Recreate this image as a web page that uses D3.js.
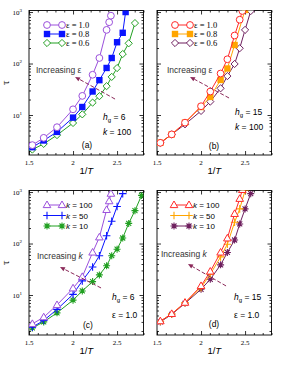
<!DOCTYPE html>
<html>
<head>
<meta charset="utf-8">
<script src="https://cdn.jsdelivr.net/npm/d3@7"></script>
<style>
  body { margin: 0; background: #fff; }
  svg { display: block; }
</style>
</head>
<body>
<script>
// 图的尺寸
var svgWidth = 287, svgHeight = 365;

// 坐标轴刻度
var xMajorTicks = [1.5, 2, 2.5];
var xTickLabels = ['1.5', '2', '2.5'];
var yMajorTicks = [10, 100, 1000];
var yTickExp = ['1', '2', '3'];

// (a) h_g = 6, k = 100
var xA10 = [1.538, 1.667, 1.818, 2.0, 2.105, 2.222, 2.299, 2.381, 2.41, 2.43];
var tauA10 = [2.6, 3.6, 5.8, 12.9, 23.5, 60.5, 128, 450, 635, 850];
var xA08 = [1.538, 1.667, 1.818, 2.0, 2.105, 2.222, 2.299, 2.381, 2.439, 2.5, 2.564, 2.597];
var tauA08 = [2.37, 3.2, 4.7, 8.9, 14.3, 28.6, 47.5, 82, 128, 259, 395, 1000];
var xA06 = [1.538, 1.667, 1.818, 2.0, 2.105, 2.222, 2.299, 2.381, 2.439, 2.5, 2.564, 2.632, 2.703];
var tauA06 = [2.13, 2.75, 4.07, 7.0, 10.3, 17.4, 23.2, 36.3, 55, 81.6, 153, 247, 610];

// (b) h_g = 15, k = 100
var xB10 = [1.538, 1.667, 1.818, 2.0, 2.105, 2.222, 2.299, 2.381, 2.439, 2.469];
var tauB10 = [2.88, 4.2, 7.1, 14.8, 28.6, 64, 121, 350, 710, 1050];
var xB08 = [1.538, 1.667, 1.818, 2.0, 2.105, 2.222, 2.299, 2.381, 2.5];
var tauB08 = [2.88, 4.2, 7.1, 14.3, 22.5, 48, 80, 229, 1100];
var xB06 = [1.538, 1.667, 1.818, 2.0, 2.105, 2.222, 2.299, 2.381, 2.439, 2.5, 2.564];
var tauB06 = [2.88, 4.2, 6.6, 12, 18.2, 33, 57, 98, 198, 450, 1045];

// (c) h_g = 6, eps = 1.0
var xC100 = [1.538, 1.667, 1.818, 2.0, 2.105, 2.222, 2.299, 2.381, 2.41, 2.43];
var tauC100 = [2.75, 3.7, 6.4, 13.5, 22.5, 67, 132, 450, 665, 930];
var xC50 = [1.538, 1.667, 1.818, 2.0, 2.105, 2.222, 2.299, 2.381, 2.439, 2.5, 2.564];
var tauC50 = [2.37, 3.2, 5.25, 10.3, 18.8, 35, 58, 142, 270, 525, 930];
var xC10 = [1.538, 1.667, 1.818, 2.0, 2.105, 2.222, 2.299, 2.381, 2.439, 2.5, 2.564, 2.632, 2.703, 2.778];
var tauC10 = [2.29, 3.0, 4.5, 7.95, 12, 18.2, 24.6, 36.9, 58, 77.6, 128, 246, 435, 860];

// (d) h_g = 15, eps = 1.0
var xD100 = [1.538, 1.667, 1.818, 2.0, 2.105, 2.222, 2.299, 2.381, 2.439, 2.469];
var tauD100 = [3.1, 4.3, 7.1, 15, 28.6, 67, 126, 377, 740, 1100];
var xD50 = [1.538, 1.667, 1.818, 2.0, 2.105, 2.222, 2.299, 2.381, 2.439, 2.5];
var tauD50 = [3.1, 4.3, 7.1, 13.9, 25.3, 55, 97, 259, 470, 1070];
var xD10 = [1.538, 1.667, 1.818, 2.0, 2.105, 2.222, 2.299, 2.381, 2.439, 2.5, 2.564];
var tauD10 = [3.0, 4.2, 6.9, 12.9, 20.2, 38.5, 67, 117, 240, 470, 930];

// 颜色
var cViolet = '#9b50dc', cBlue = '#0a14ff', cGreen = '#22a022';
var cRed = '#ff2a2a', cOrange = '#ffa500', cMaroon = '#6e1f5e';
var cArrow = '#8b2a5a';

var svg = d3.select('body').append('svg')
  .attr('width', svgWidth)
  .attr('height', svgHeight);

var panels = [
  { id: 'a', x0: 29, x1: 143.5, y0: 10.5, y1: 155, yLabels: true,
    legendFont: 'serif', legendX: 47,
    series: [
      { label: 'ε = 1.0', x: xA10, y: tauA10, color: cViolet, mark: 'circle' },
      { label: 'ε = 0.8', x: xA08, y: tauA08, color: cBlue, mark: 'square' },
      { label: 'ε = 0.6', x: xA06, y: tauA06, color: cGreen, mark: 'diamond' }
    ],
    incr: 'ε', incrItalic: false, incrX: 36, incrY: 73,
    arrow: [[2.477, 20.4], [2.023, 55]],
    hg: '6', hgX: 103, hgY: 120, line2: ['k', ' = 100'], l2Y: 135, tag: '(a)', tagX: 87, tagY: 148 },
  { id: 'b', x0: 157, x1: 271.5, y0: 10.5, y1: 155, yLabels: false,
    legendFont: 'serif', legendX: 175,
    series: [
      { label: 'ε = 1.0', x: xB10, y: tauB10, color: cRed, mark: 'circle' },
      { label: 'ε = 0.8', x: xB08, y: tauB08, color: cOrange, mark: 'square' },
      { label: 'ε = 0.6', x: xB06, y: tauB06, color: cMaroon, mark: 'diamond' }
    ],
    incr: 'ε', incrItalic: false, incrX: 167, incrY: 73,
    arrow: [[2.318, 21.4], [1.875, 55]],
    hg: '15', hgX: 235, hgY: 115, line2: ['k', ' = 100'], l2Y: 130, tag: '(b)', tagX: 214, tagY: 149 },
  { id: 'c', x0: 29, x1: 143.5, y0: 190.5, y1: 335, yLabels: true,
    legendFont: 'sans', legendX: 47,
    series: [
      { label: 'k = 100', x: xC100, y: tauC100, color: cViolet, mark: 'triangle' },
      { label: 'k = 50', x: xC50, y: tauC50, color: cBlue, mark: 'plus' },
      { label: 'k = 10', x: xC10, y: tauC10, color: cGreen, mark: 'star' }
    ],
    incr: 'k', incrItalic: true, incrX: 37, incrY: 259,
    arrow: [[2.318, 13.7], [1.852, 35]],
    hg: '6', hgX: 112, hgY: 300, line2: ['ε', ' = 1.0'], l2Y: 318, tag: '(c)', tagX: 88, tagY: 328 },
  { id: 'd', x0: 157, x1: 271.5, y0: 190.5, y1: 335, yLabels: false,
    legendFont: 'sans', legendX: 174,
    series: [
      { label: 'k = 100', x: xD100, y: tauD100, color: cRed, mark: 'triangle' },
      { label: 'k = 50', x: xD50, y: tauD50, color: cOrange, mark: 'plus' },
      { label: 'k = 10', x: xD10, y: tauD10, color: cMaroon, mark: 'star' }
    ],
    incr: 'k', incrItalic: true, incrX: 161, incrY: 257,
    arrow: [[2.284, 15], [1.852, 40]],
    hg: '15', hgX: 234, hgY: 300, line2: ['ε', ' = 1.0'], l2Y: 318, tag: '(d)', tagX: 214, tagY: 327 }
];

var SERIF = '"Liberation Serif", "DejaVu Serif", serif';
var SANS = '"Liberation Sans", Arial, sans-serif';

// 画一个标记
function drawMark(g, type, color, cx, cy) {
  var m = g.append('g').attr('transform', 'translate(' + cx + ',' + cy + ')');
  if (type === 'circle') {
    m.append('circle').attr('r', 3.4).attr('fill', '#fff').attr('stroke', color).attr('stroke-width', 1);
  } else if (type === 'square') {
    m.append('rect').attr('x', -3.2).attr('y', -3.2).attr('width', 6.4).attr('height', 6.4).attr('fill', color);
  } else if (type === 'diamond') {
    m.append('path').attr('d', 'M0,-3.6L3.6,0L0,3.6L-3.6,0Z').attr('fill', '#fff').attr('stroke', color).attr('stroke-width', 1);
  } else if (type === 'triangle') {
    m.append('path').attr('d', 'M0,-4L3.8,2.6L-3.8,2.6Z').attr('fill', '#fff').attr('stroke', color).attr('stroke-width', 1);
  } else if (type === 'plus') {
    m.append('path').attr('d', 'M-3.8,0H3.8M0,-3.8V3.8').attr('stroke', color).attr('stroke-width', 1.1);
  } else if (type === 'star') {
    m.append('path').attr('d', 'M-3.5,0H3.5M0,-3.5V3.5M-2.5,-2.5L2.5,2.5M-2.5,2.5L2.5,-2.5').attr('stroke', color).attr('stroke-width', 1.1);
    m.append('circle').attr('r', 1.6).attr('fill', color);
  }
}

panels.forEach(function (p) {
  var x = d3.scaleLinear().domain([1.5, 2.8]).range([p.x0, p.x1]);
  var y = d3.scaleLog().domain([Math.pow(10, 0.223), Math.pow(10, 3.03)]).range([p.y1, p.y0]);
  var g = svg.append('g').attr('class', 'panel-' + p.id);

  // 裁剪
  svg.append('clipPath').attr('id', 'clip-' + p.id)
    .append('rect').attr('x', p.x0).attr('y', p.y0)
    .attr('width', p.x1 - p.x0).attr('height', p.y1 - p.y0);

  // 刻度：主刻度和次刻度，全部朝内
  var xMinor = x.ticks(13).filter(function (v) { return xMajorTicks.indexOf(+v.toFixed(1)) < 0; });
  var yMinor = y.ticks().filter(function (v) { return yMajorTicks.indexOf(v) < 0; });

  function axisGroup(axis, tx, ty) {
    var a = g.append('g').attr('transform', 'translate(' + tx + ',' + ty + ')').call(axis);
    a.select('.domain').remove();
    a.selectAll('text').remove();
    a.selectAll('line').attr('stroke', '#000').attr('stroke-width', 0.8);
    return a;
  }
  axisGroup(d3.axisBottom(x).tickValues(xMajorTicks).tickSize(-4), 0, p.y1);
  axisGroup(d3.axisBottom(x).tickValues(xMinor).tickSize(-2), 0, p.y1);
  axisGroup(d3.axisTop(x).tickValues(xMajorTicks).tickSize(-4), 0, p.y0);
  axisGroup(d3.axisTop(x).tickValues(xMinor).tickSize(-2), 0, p.y0);
  axisGroup(d3.axisLeft(y).tickValues(yMajorTicks).tickSize(-4), p.x0, 0);
  axisGroup(d3.axisLeft(y).tickValues(yMinor).tickSize(-2), p.x0, 0);
  axisGroup(d3.axisRight(y).tickValues(yMajorTicks).tickSize(-4), p.x1, 0);
  axisGroup(d3.axisRight(y).tickValues(yMinor).tickSize(-2), p.x1, 0);

  // 外框
  g.append('rect').attr('x', p.x0).attr('y', p.y0)
    .attr('width', p.x1 - p.x0).attr('height', p.y1 - p.y0)
    .attr('fill', 'none').attr('stroke', '#000').attr('stroke-width', 0.9);

  // x 轴标签
  xMajorTicks.forEach(function (v, i) {
    g.append('text').attr('x', x(v)).attr('y', p.y1 + 9.5)
      .attr('text-anchor', 'middle').attr('font-family', SERIF).attr('font-size', 7)
      .text(xTickLabels[i]);
  });
  var xl = g.append('text').attr('x', (p.x0 + p.x1) / 2).attr('y', p.y1 + 19)
    .attr('text-anchor', 'middle').attr('font-family', SANS).attr('font-size', 9.5);
  xl.append('tspan').text('1/');
  xl.append('tspan').attr('font-style', 'italic').text('T');

  // y 轴标签
  if (p.yLabels) {
    yMajorTicks.forEach(function (v, i) {
      var t = g.append('text').attr('x', p.x0 - 7).attr('y', y(v) + 2.5)
        .attr('text-anchor', 'end').attr('font-family', SERIF).attr('font-size', 7);
      t.append('tspan').text('10');
      t.append('tspan').attr('font-size', 5).attr('dy', -3).text(yTickExp[i]);
    });
    g.append('text')
      .attr('transform', 'translate(' + (p.x0 - 20) + ',' + ((p.y0 + p.y1) / 2) + ') rotate(-90)')
      .attr('text-anchor', 'middle').attr('font-family', SERIF).attr('font-size', 11)
      .text('τ');
  }

  // 数据线和标记
  var line = d3.line().x(function (d) { return x(d[0]); }).y(function (d) { return y(d[1]); });
  var plot = g.append('g').attr('clip-path', 'url(#clip-' + p.id + ')');
  p.series.slice().reverse().forEach(function (s) {
    var pts = s.x.map(function (v, i) { return [v, s.y[i]]; });
    plot.append('path').datum(pts).attr('d', line)
      .attr('fill', 'none').attr('stroke', s.color).attr('stroke-width', 1);
    pts.forEach(function (d) { drawMark(plot, s.mark, s.color, x(d[0]), y(d[1])); });
  });

  // 图例
  var rowY = p.id === 'a' || p.id === 'b' ? [25, 34, 43] : [205, 215.5, 226];
  p.series.forEach(function (s, i) {
    var ly = rowY[i];
    g.append('line').attr('x1', p.legendX).attr('x2', p.legendX + 15)
      .attr('y1', ly).attr('y2', ly).attr('stroke', s.color).attr('stroke-width', 1);
    drawMark(g, s.mark, s.color, p.legendX, ly);
    drawMark(g, s.mark, s.color, p.legendX + 15, ly);
    var t = g.append('text').attr('x', p.legendX + 19).attr('y', ly + 3);
    if (p.legendFont === 'serif') {
      t.attr('font-family', SERIF).attr('font-size', 8.5).text(s.label);
    } else {
      var parts = s.label.split(' = ');
      t.attr('font-family', SANS).attr('font-size', 8);
      t.append('tspan').attr('font-style', 'italic').text(parts[0]);
      t.append('tspan').text(' = ' + parts[1]);
    }
  });

  // 箭头注释
  var ax0 = x(p.arrow[0][0]), ay0 = y(p.arrow[0][1]);
  var ax1 = x(p.arrow[1][0]), ay1 = y(p.arrow[1][1]);
  var ang = Math.atan2(ay1 - ay0, ax1 - ax0);
  var hl = 5, hw = 2.2;
  var bx = ax1 - hl * Math.cos(ang), by = ay1 - hl * Math.sin(ang);
  g.append('line').attr('x1', ax0).attr('y1', ay0).attr('x2', bx).attr('y2', by)
    .attr('stroke', cArrow).attr('stroke-width', 1).attr('stroke-dasharray', '4,2');
  g.append('path')
    .attr('d', 'M' + ax1 + ',' + ay1 +
      'L' + (bx + hw * Math.sin(ang)) + ',' + (by - hw * Math.cos(ang)) +
      'L' + (bx - hw * Math.sin(ang)) + ',' + (by + hw * Math.cos(ang)) + 'Z')
    .attr('fill', cArrow);

  var it = g.append('text').attr('x', p.incrX).attr('y', p.incrY)
    .attr('font-family', SANS).attr('font-size', 8.5).attr('fill', '#333');
  it.append('tspan').text('Increasing ');
  it.append('tspan').attr('font-style', p.incrItalic ? 'italic' : 'normal').text(p.incr);

  // h_g 和参数
  var h = g.append('text').attr('x', p.hgX).attr('y', p.hgY)
    .attr('font-family', SANS).attr('font-size', 8.5);
  h.append('tspan').attr('font-style', 'italic').text('h');
  h.append('tspan').attr('font-size', 6).attr('dy', 2).text('g');
  h.append('tspan').attr('dy', -2).text(' = ' + p.hg);
  var l2 = g.append('text').attr('x', p.hgX).attr('y', p.l2Y)
    .attr('font-family', SANS).attr('font-size', 8.5);
  l2.append('tspan').attr('font-style', p.line2[0] === 'k' ? 'italic' : 'normal').text(p.line2[0]);
  l2.append('tspan').text(p.line2[1]);

  g.append('text').attr('x', p.tagX).attr('y', p.tagY)
    .attr('text-anchor', 'middle').attr('font-family', SANS).attr('font-size', 8.5)
    .text(p.tag);
});
</script>
</body>
</html>
